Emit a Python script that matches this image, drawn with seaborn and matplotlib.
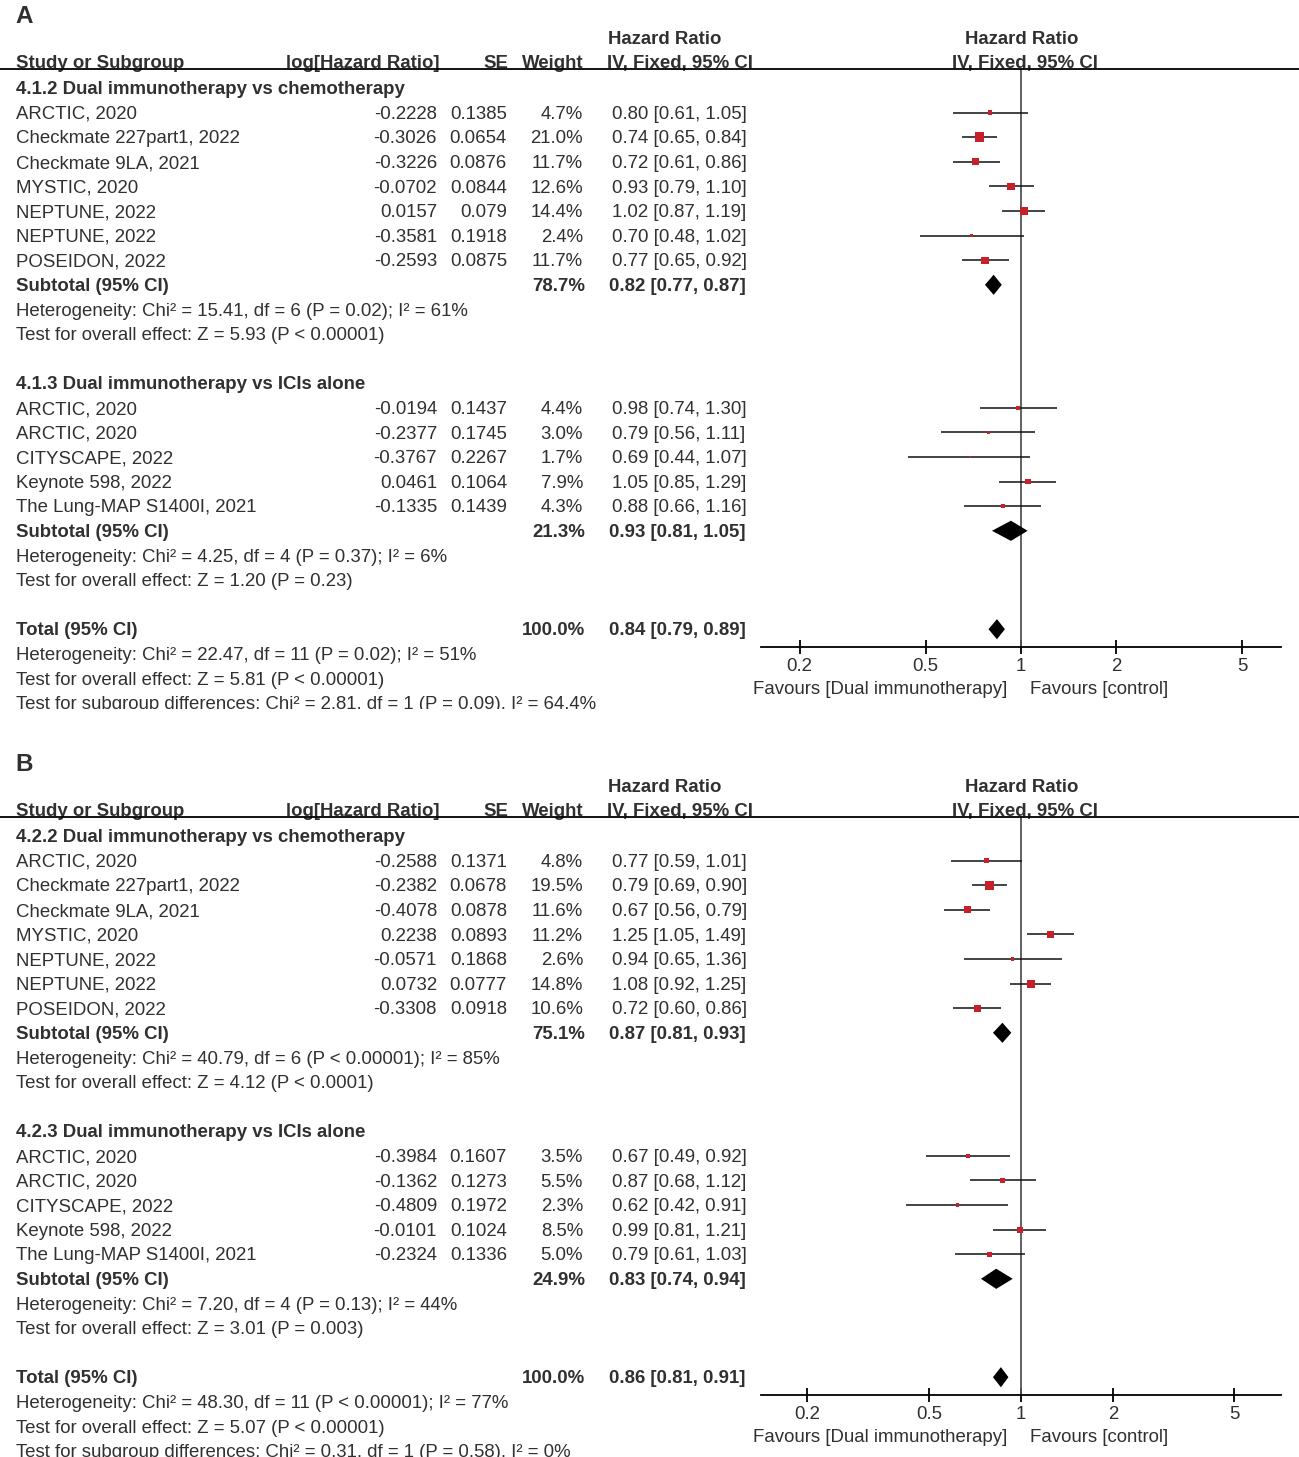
import numpy as np
import pandas as pd
import seaborn as sns
import matplotlib.pyplot as plt
from matplotlib import transforms
from matplotlib.lines import Line2D
from matplotlib.ticker import NullLocator

# ---- Panel A data ----
a1_title = '4.1.2 Dual immunotherapy vs chemotherapy'
a1_study = ['ARCTIC, 2020', 'Checkmate 227part1, 2022', 'Checkmate 9LA, 2021', 'MYSTIC, 2020',
            'NEPTUNE, 2022', 'NEPTUNE, 2022', 'POSEIDON, 2022']
a1_loghr = [-0.2228, -0.3026, -0.3226, -0.0702, 0.0157, -0.3581, -0.2593]
a1_se = [0.1385, 0.0654, 0.0876, 0.0844, 0.079, 0.1918, 0.0875]
a1_weight = [4.7, 21.0, 11.7, 12.6, 14.4, 2.4, 11.7]
a1_hr = [0.80, 0.74, 0.72, 0.93, 1.02, 0.70, 0.77]
a1_lo = [0.61, 0.65, 0.61, 0.79, 0.87, 0.48, 0.65]
a1_hi = [1.05, 0.84, 0.86, 1.10, 1.19, 1.02, 0.92]
a1_sub = [78.7, 0.82, 0.77, 0.87]
a1_het = 'Heterogeneity: Chi² = 15.41, df = 6 (P = 0.02); I² = 61%'
a1_z = 'Test for overall effect: Z = 5.93 (P < 0.00001)'

a2_title = '4.1.3 Dual immunotherapy vs ICIs alone'
a2_study = ['ARCTIC, 2020', 'ARCTIC, 2020', 'CITYSCAPE, 2022', 'Keynote 598, 2022',
            'The Lung-MAP S1400I, 2021']
a2_loghr = [-0.0194, -0.2377, -0.3767, 0.0461, -0.1335]
a2_se = [0.1437, 0.1745, 0.2267, 0.1064, 0.1439]
a2_weight = [4.4, 3.0, 1.7, 7.9, 4.3]
a2_hr = [0.98, 0.79, 0.69, 1.05, 0.88]
a2_lo = [0.74, 0.56, 0.44, 0.85, 0.66]
a2_hi = [1.30, 1.11, 1.07, 1.29, 1.16]
a2_sub = [21.3, 0.93, 0.81, 1.05]
a2_het = 'Heterogeneity: Chi² = 4.25, df = 4 (P = 0.37); I² = 6%'
a2_z = 'Test for overall effect: Z = 1.20 (P = 0.23)'

a_total = [100.0, 0.84, 0.79, 0.89]
a_notes = ['Heterogeneity: Chi² = 22.47, df = 11 (P = 0.02); I² = 51%',
           'Test for overall effect: Z = 5.81 (P < 0.00001)',
           'Test for subgroup differences: Chi² = 2.81, df = 1 (P = 0.09), I² = 64.4%']

# ---- Panel B data ----
b1_title = '4.2.2 Dual immunotherapy vs chemotherapy'
b1_study = ['ARCTIC, 2020', 'Checkmate 227part1, 2022', 'Checkmate 9LA, 2021', 'MYSTIC, 2020',
            'NEPTUNE, 2022', 'NEPTUNE, 2022', 'POSEIDON, 2022']
b1_loghr = [-0.2588, -0.2382, -0.4078, 0.2238, -0.0571, 0.0732, -0.3308]
b1_se = [0.1371, 0.0678, 0.0878, 0.0893, 0.1868, 0.0777, 0.0918]
b1_weight = [4.8, 19.5, 11.6, 11.2, 2.6, 14.8, 10.6]
b1_hr = [0.77, 0.79, 0.67, 1.25, 0.94, 1.08, 0.72]
b1_lo = [0.59, 0.69, 0.56, 1.05, 0.65, 0.92, 0.60]
b1_hi = [1.01, 0.90, 0.79, 1.49, 1.36, 1.25, 0.86]
b1_sub = [75.1, 0.87, 0.81, 0.93]
b1_het = 'Heterogeneity: Chi² = 40.79, df = 6 (P < 0.00001); I² = 85%'
b1_z = 'Test for overall effect: Z = 4.12 (P < 0.0001)'

b2_title = '4.2.3 Dual immunotherapy vs ICIs alone'
b2_study = ['ARCTIC, 2020', 'ARCTIC, 2020', 'CITYSCAPE, 2022', 'Keynote 598, 2022',
            'The Lung-MAP S1400I, 2021']
b2_loghr = [-0.3984, -0.1362, -0.4809, -0.0101, -0.2324]
b2_se = [0.1607, 0.1273, 0.1972, 0.1024, 0.1336]
b2_weight = [3.5, 5.5, 2.3, 8.5, 5.0]
b2_hr = [0.67, 0.87, 0.62, 0.99, 0.79]
b2_lo = [0.49, 0.68, 0.42, 0.81, 0.61]
b2_hi = [0.92, 1.12, 0.91, 1.21, 1.03]
b2_sub = [24.9, 0.83, 0.74, 0.94]
b2_het = 'Heterogeneity: Chi² = 7.20, df = 4 (P = 0.13); I² = 44%'
b2_z = 'Test for overall effect: Z = 3.01 (P = 0.003)'

b_total = [100.0, 0.86, 0.81, 0.91]
b_notes = ['Heterogeneity: Chi² = 48.30, df = 11 (P < 0.00001); I² = 77%',
           'Test for overall effect: Z = 5.07 (P < 0.00001)',
           'Test for subgroup differences: Chi² = 0.31, df = 1 (P = 0.58), I² = 0%']

ticks = [0.2, 0.5, 1, 2, 5]
tick_labels = ['0.2', '0.5', '1', '2', '5']

sns.set_style('white')
plt.rcParams['font.family'] = ['Liberation Sans', 'DejaVu Sans']

W, H = 1299, 1457
STEP = 24.6
FS = 13.4
TXT = '#303030'
RED = '#c8202a'
TOFF = 0.07  # text sits a touch below the row centre

fig = plt.figure(figsize=(W / 100, H / 100), dpi=100)


def fx(px):
    return px / W


def group_frame(title, study, loghr, se, weight, hr, lo, hi, sub, het, z):
    df = pd.DataFrame({'study': study, 'loghr': loghr, 'se': se, 'weight': weight,
                       'hr': hr, 'lo': lo, 'hi': hi})
    return dict(title=title, df=df, sub=sub, het=het, z=z)


def draw_panel(label, top, groups, total, notes, xlim, clip_px):
    y_line = top - 19
    y_axis = top + 559
    ax = fig.add_axes([fx(761), 1 - y_axis / H, fx(1281 - 761), (y_axis - y_line) / H])
    ax.set_xscale('log')
    ax.set_xlim(xlim)
    ax.set_ylim((y_axis - top) / STEP, (y_line - top) / STEP)
    tr = transforms.blended_transform_factory(fig.transFigure, ax.transData)
    clip = transforms.Bbox([[0, H - clip_px], [W, H]])

    def t(x, row, s, ha='left', bold=False, size=FS, clipped=False):
        txt = fig.text(fx(x), row + TOFF, s, transform=tr, ha=ha, va='center', fontsize=size,
                       fontweight='bold' if bold else 'normal', color=TXT)
        if clipped:
            txt.set_clip_on(True)
            txt.set_clip_box(clip)
        return txt

    def ci_text(h, l, u):
        return '%.2f [%.2f, %.2f]' % (h, l, u)

    def diamond(row, h, l, u):
        ax.fill([l, h, u, h], [row, row - 0.41, row, row + 0.41], color='black', lw=0)

    # headers
    t(15, -2.97, label, bold=True, size=17.5)
    t(665, -2.03, 'Hazard Ratio', ha='center', bold=True)
    t(1022, -2.03, 'Hazard Ratio', ha='center', bold=True)
    t(16, -1.06, 'Study or Subgroup', bold=True)
    t(440, -1.06, 'log[Hazard Ratio]', ha='right', bold=True)
    t(508, -1.06, 'SE', ha='right', bold=True)
    t(584, -1.06, 'Weight', ha='right', bold=True)
    t(680, -1.06, 'IV, Fixed, 95% CI', ha='center', bold=True)
    t(1025, -1.06, 'IV, Fixed, 95% CI', ha='center', bold=True)
    ylim_top = ax.get_ylim()[1]
    fig.add_artist(Line2D([0, 1], [ylim_top, ylim_top], transform=tr, color='black', lw=1.3, zorder=5))

    ax.axvline(1, color='#555555', lw=1.3, zorder=1)

    row = 0
    for g in groups:
        t(16, row, g['title'], bold=True)
        df = g['df'].copy()
        df['row'] = np.arange(row + 1, row + 1 + len(df))
        for _, r in df.iterrows():
            t(16, r['row'], r['study'])
            t(437, r['row'], str(r['loghr']), ha='right')
            t(507, r['row'], str(r['se']), ha='right')
            t(583, r['row'], '%.1f%%' % r['weight'], ha='right')
            t(612, r['row'], ci_text(r['hr'], r['lo'], r['hi']))
        ax.hlines(df['row'], df['lo'], df['hi'], color='#111111', lw=1.1, zorder=2)
        sns.scatterplot(data=df, x='hr', y='row', marker='s', color=RED, s=df['weight'] * 2.2,
                        linewidth=0, legend=False, ax=ax, zorder=3)
        row += len(df) + 1
        w, h, l, u = g['sub']
        t(16, row, 'Subtotal (95% CI)', bold=True)
        t(585, row, '%.1f%%' % w, ha='right', bold=True)
        t(609, row, ci_text(h, l, u), bold=True)
        diamond(row, h, l, u)
        t(16, row + 1, g['het'])
        t(16, row + 2, g['z'])
        row += 4

    w, h, l, u = total
    t(16, row, 'Total (95% CI)', bold=True)
    t(585, row, '%.1f%%' % w, ha='right', bold=True)
    t(609, row, ci_text(h, l, u), bold=True)
    diamond(row, h, l, u)
    for i, n in enumerate(notes):
        t(16, row + 1 + i, n, clipped=(i == len(notes) - 1))

    # axis styling
    for side in ['top', 'left', 'right']:
        ax.spines[side].set_visible(False)
    ax.spines['bottom'].set_color('black')
    ax.spines['bottom'].set_linewidth(1.3)
    ax.set_xticks(ticks)
    ax.set_xticklabels(tick_labels)
    ax.xaxis.set_minor_locator(NullLocator())
    ax.set_yticks([])
    ax.set_xlabel('')
    ax.set_ylabel('')
    ax.tick_params(axis='x', direction='inout', length=10, width=1.3, labelsize=FS,
                   labelcolor=TXT, color='black', pad=3, bottom=True)
    ax.patch.set_alpha(0)
    fav_row = (y_axis + 41 - top) / STEP
    t(1007, fav_row, 'Favours [Dual immunotherapy]', ha='right')
    t(1030, fav_row, 'Favours [control]')


groups_a = [group_frame(a1_title, a1_study, a1_loghr, a1_se, a1_weight, a1_hr, a1_lo, a1_hi,
                        a1_sub, a1_het, a1_z),
            group_frame(a2_title, a2_study, a2_loghr, a2_se, a2_weight, a2_hr, a2_lo, a2_hi,
                        a2_sub, a2_het, a2_z)]
groups_b = [group_frame(b1_title, b1_study, b1_loghr, b1_se, b1_weight, b1_hr, b1_lo, b1_hi,
                        b1_sub, b1_het, b1_z),
            group_frame(b2_title, b2_study, b2_loghr, b2_se, b2_weight, b2_hr, b2_lo, b2_hi,
                        b2_sub, b2_het, b2_z)]

draw_panel('A', 88, groups_a, a_total, a_notes, (0.151, 6.63), 709)
draw_panel('B', 836, groups_b, b_total, b_notes, (0.141, 7.10), 1457)

fig.savefig('out.png', dpi=100)
